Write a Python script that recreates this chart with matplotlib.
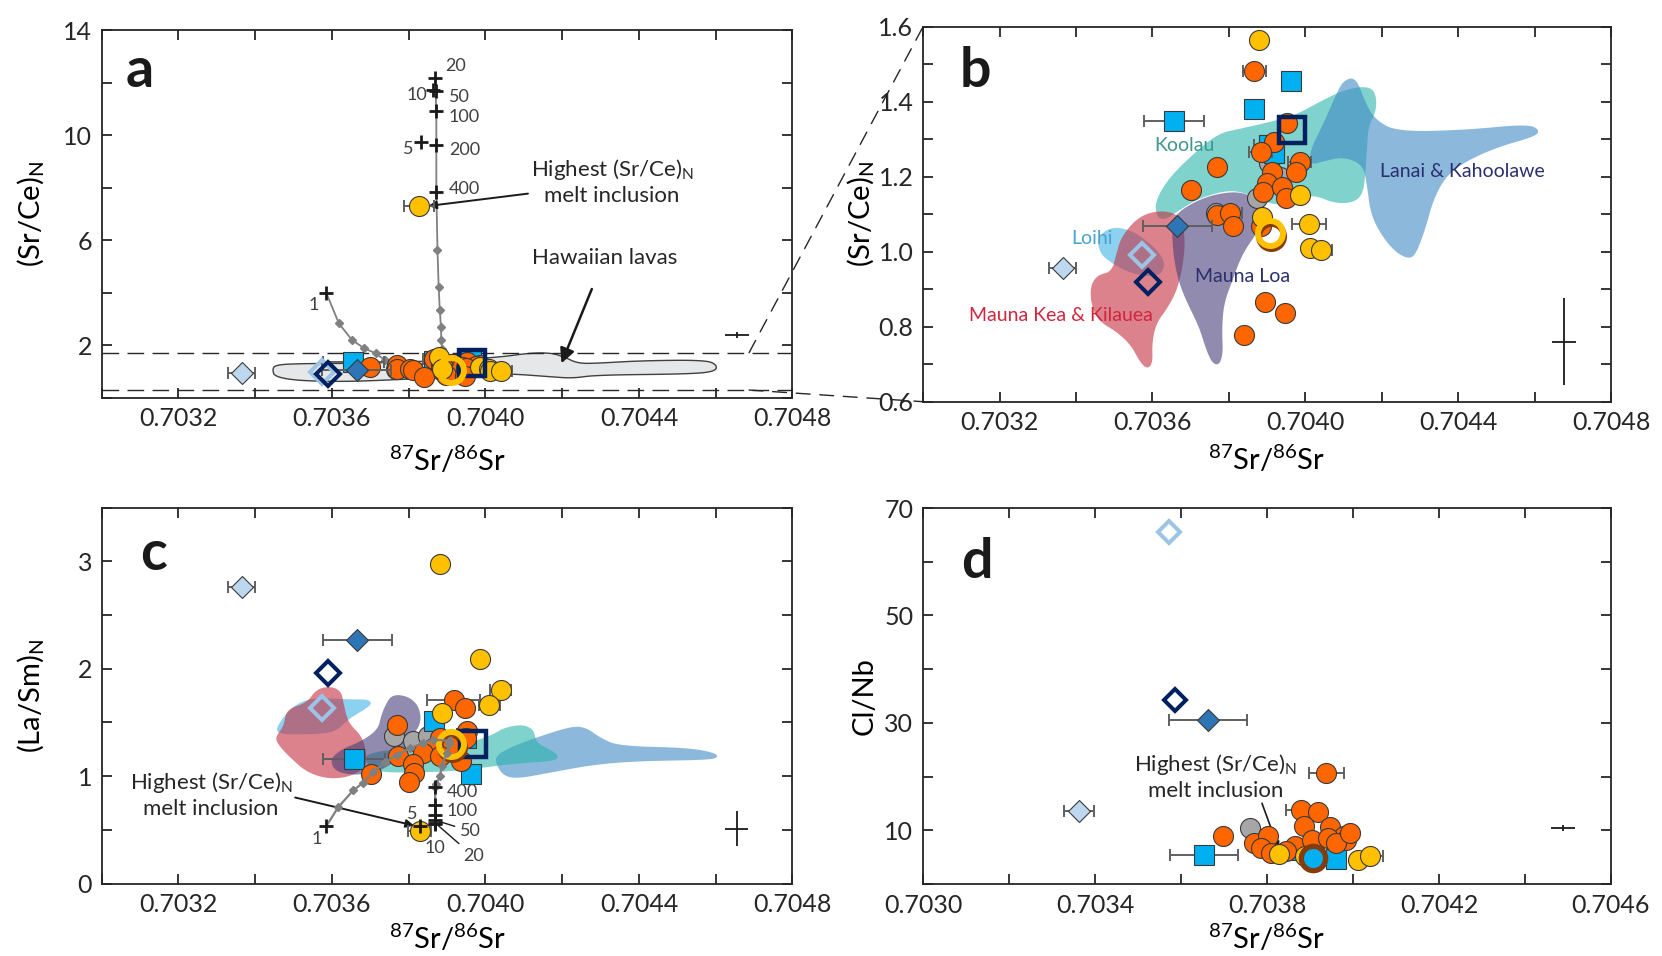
import numpy as np
import matplotlib.pyplot as plt
from matplotlib.patches import Polygon, ConnectionPatch

plt.rcParams['font.family'] = ['Lato', 'DejaVu Sans']
plt.rcParams['mathtext.fontset'] = 'custom'
plt.rcParams['mathtext.rm'] = 'Lato'
plt.rcParams['mathtext.it'] = 'Lato:italic'
plt.rcParams['mathtext.bf'] = 'Lato:bold'
plt.rcParams['text.color'] = '#262626'
plt.rcParams['axes.edgecolor'] = '#262626'
plt.rcParams['xtick.color'] = '#262626'
plt.rcParams['ytick.color'] = '#262626'

# ---- colours ----
ORANGE = '#FF6600'
YELLOW = '#FFC000'
GREY = '#A6A6A6'
CYAN = '#00B0F0'
NAVY = '#002060'
MIDBLUE = '#2E75B6'
PALEBLUE = '#BDD7EE'
LIGHTBLUE = '#9DC3E6'
BROWN = '#843C0C'
EDGE = '#3a3a3a'

# ---- tick labels ----
xticklabels_abc = ['', '0.7032', '', '0.7036', '', '0.7040', '', '0.7044', '', '0.7048']
xticklabels_d = ['0.7030', '', '0.7034', '', '0.7038', '', '0.7042', '', '0.7046']
yticklabels_a = ['', '2', '', '6', '', '10', '', '14']
yticklabels_b = ['0.6', '', '0.8', '', '1.0', '', '1.2', '', '1.4', '', '1.6']
yticklabels_c = ['0', '', '1', '', '2', '', '3', '']
yticklabels_d = ['', '10', '', '30', '', '50', '', '70']

# ---- melt inclusions: (Sr/Ce)N, panels a and b ----
orange_sr = [0.703867, 0.703952, 0.703918, 0.703884, 0.703770, 0.703985, 0.703975,
             0.703914, 0.703899, 0.703890, 0.703939, 0.703949, 0.703700, 0.703770,
             0.703804, 0.703810, 0.703884, 0.703896, 0.703947, 0.703839]
orange_srce = [1.483, 1.342, 1.293, 1.267, 1.227, 1.240, 1.213, 1.213, 1.182, 1.160,
               1.173, 1.142, 1.164, 1.098, 1.104, 1.068, 1.068, 0.867, 0.837, 0.778]
orange_err = [3e-5, 0, 0, 3e-5, 0, 3e-5, 0, 0, 0, 0, 0, 0, 0, 0, 3e-5, 0, 0, 0, 0, 0]
grey_sr = [0.703905, 0.703873, 0.703766, 0.703934]
grey_srce = [1.236, 1.142, 1.102, 1.200]
yellow_sr = [0.703880, 0.703987, 0.703886, 0.704010, 0.704013, 0.704040, 0.703827]
yellow_srce = [1.564, 1.151, 1.093, 1.074, 1.009, 1.004, 7.30]
yellow_err = [0, 0, 0, 4.5e-5, 0, 3e-5, 4e-5]
cyan_sr = [0.703962, 0.703866, 0.703656, 0.703905, 0.703918]
cyan_srce = [1.456, 1.380, 1.349, 1.284, 1.262]
cyan_err = [0, 0, 7.9e-5, 4e-5, 0]
navysq_sr, navysq_srce = [0.703966], [1.324]
ring_sr, ring_srce = [0.703909], [1.049]
middia_sr, middia_srce, middia_err = [0.703665], [1.069], [9e-5]
paledia_sr, paledia_srce, paledia_err = [0.703365], [0.956], [3.5e-5]
opendia_sr, opendia_srce = [0.703573], [0.991]
navydia_sr, navydia_srce = [0.703589], [0.920]

# ---- (La/Sm)N, panel c ----
orange_sr_c = [0.703917, 0.703947, 0.703770, 0.703953, 0.703950, 0.703881, 0.703905,
               0.703863, 0.703836, 0.703771, 0.703810, 0.703813, 0.703800, 0.703702,
               0.703881, 0.703935]
orange_lasm = [1.709, 1.637, 1.473, 1.420, 1.358, 1.358, 1.281, 1.265, 1.219, 1.188,
               1.110, 1.033, 0.946, 1.017, 1.188, 1.141]
orange_err_c = [6.9e-5] + [0] * 15
grey_sr_c = [0.703762, 0.703810, 0.703851]
grey_lasm = [1.374, 1.327, 1.374]
yellow_sr_c = [0.703881, 0.703985, 0.704040, 0.704010, 0.703887, 0.703829]
yellow_lasm = [2.98, 2.087, 1.798, 1.662, 1.585, 0.49]
yellow_err_c = [0, 0, 2.7e-5, 2.7e-5, 0, 3e-5]
cyan_sr_c = [0.703867, 0.703657, 0.703962, 0.703950]
cyan_lasm = [1.513, 1.157, 1.017, 1.360]
cyan_err_c = [0, 8e-5, 0, 0]
navysq_sr_c, navysq_lasm = [0.703968], [1.296]
ring_sr_c, ring_lasm = [0.703911], [1.296]
middia_sr_c, middia_lasm = [0.703666], [2.267]
paledia_sr_c, paledia_lasm = [0.703365], [2.763]
opendia_sr_c, opendia_lasm = [0.703574], [1.637]
navydia_sr_c, navydia_lasm = [0.703589], [1.963]

# ---- Cl/Nb, panel d ----
orange_sr_d = [0.703938, 0.703879, 0.703919, 0.703885, 0.703946, 0.703978, 0.703983,
               0.703697, 0.703770, 0.703803, 0.703787, 0.703809, 0.703865, 0.703904,
               0.703942, 0.703961, 0.703843, 0.703994]
orange_clnb = [20.68, 13.86, 13.36, 10.76, 10.63, 8.90, 8.15, 9.02, 7.66, 8.90, 6.73,
               5.80, 7.03, 8.27, 8.59, 7.66, 6.10, 9.50]
orange_err_d = [4e-5, 3.5e-5] + [0] * 16
grey_sr_d, grey_clnb = [0.703760], [10.45]
cyan_sr_d = [0.703653, 0.703910, 0.703961, 0.703871]
cyan_clnb = [5.42, 5.17, 4.68, 6.40]
cyan_err_d = [7.9e-5, 0, 0, 0]
yellow_sr_d = [0.703827, 0.704011, 0.704039, 0.703888]
yellow_clnb = [5.55, 4.55, 5.30, 5.17]
yellow_err_d = [0, 0, 3e-5, 0]
ring_sr_d, ring_clnb = [0.703908], [4.86]
middia_sr_d, middia_clnb = [0.703663], [30.48]
paledia_sr_d, paledia_clnb = [0.703363], [13.55]
opendia_sr_d, opendia_clnb = [0.703573], [65.47]
navydia_sr_d, navydia_clnb = [0.703586], [34.33]

# ---- mixing models ----
mixA_sr = [0.703869, 0.703872, 0.703872, 0.703872, 0.703875, 0.703878, 0.703881,
           0.703884, 0.703885, 0.703887, 0.703890]
mixA_srce = [12.17, 10.9, 9.63, 7.85, 5.63, 4.23, 3.34, 2.70, 2.20, 1.85, 1.45]
mixB_sr = [0.703585, 0.703618, 0.703652, 0.703684, 0.703714, 0.703738, 0.703762]
mixB_srce = [4.0, 2.83, 2.20, 1.88, 1.69, 1.43, 1.12]
mixA_sr_c = [0.703911, 0.703905, 0.703899, 0.703887, 0.703881, 0.703872, 0.703869, 0.703869]
mixA_lasm = [1.36, 1.30, 1.22, 1.095, 1.0, 0.924, 0.90, 0.559]
mixB_sr_c = [0.703585, 0.703617, 0.703656, 0.703682, 0.703708, 0.703739, 0.703770,
             0.703804, 0.703838, 0.703864, 0.703905]
mixB_lasm = [0.534, 0.714, 0.87, 0.94, 1.04, 1.13, 1.20, 1.26, 1.31, 1.34, 1.33]

F_labels = ['1', '5', '10', '20', '50', '100', '200', '400']
F_sr_a = [0.703585, 0.703831, 0.703863, 0.703869, 0.703872, 0.703872, 0.703872, 0.703872]
F_srce = [4.0, 9.75, 11.72, 12.17, 11.68, 10.9, 9.63, 7.85]
F_sr_c = [0.703585, 0.703830, 0.703869, 0.703869, 0.703869, 0.703869, 0.703869, 0.703869]
F_lasm = [0.534, 0.534, 0.555, 0.565, 0.59, 0.73, 0.637, 0.90]

# ---- fields of Hawaiian volcanoes ----
lavas_x = [0.703451, 0.703511, 0.703690, 0.703929, 0.704048, 0.704108, 0.704168, 0.704204,
           0.704240, 0.704287, 0.704407, 0.704574, 0.704604, 0.704598, 0.704526, 0.704287,
           0.704227, 0.704168, 0.704048, 0.703929, 0.703750, 0.703630, 0.703511, 0.703451,
           0.703445]
lavas_y = [1.244, 1.30, 1.308, 1.435, 1.562, 1.689, 1.714, 1.562, 1.308, 1.308, 1.41, 1.435,
           1.244, 0.99, 0.90, 0.863, 0.737, 0.80, 0.927, 0.80, 0.673, 0.61, 0.648, 0.80, 1.054]

koolau_b_x = [0.703610, 0.703608, 0.703646, 0.703709, 0.703772, 0.703835, 0.703911, 0.703975,
              0.704038, 0.704101, 0.704158, 0.704184, 0.704187, 0.704165, 0.704162, 0.704158,
              0.704152, 0.704127, 0.704076, 0.704025, 0.703975, 0.703924, 0.703848, 0.703797,
              0.703722, 0.703671, 0.703633]
koolau_b_y = [1.0933, 1.1378, 1.2, 1.2622, 1.3156, 1.3289, 1.3467, 1.3644, 1.4, 1.4311,
              1.4418, 1.4267, 1.3778, 1.3333, 1.28, 1.2178, 1.1556, 1.1307, 1.1289, 1.1511,
              1.1422, 1.12, 1.1556, 1.1644, 1.1422, 1.1111, 1.0844]
lanai_b_x = [0.704101, 0.704133, 0.704158, 0.704184, 0.704241, 0.704418, 0.704582, 0.704614,
             0.704601, 0.704506, 0.704418, 0.704367, 0.704335, 0.704316, 0.704291, 0.704272,
             0.704234, 0.704196, 0.704171, 0.704162, 0.704152, 0.704101, 0.704044, 0.704013,
             0.704013, 0.704044, 0.704082]
lanai_b_y = [1.4578, 1.4649, 1.3956, 1.3511, 1.32, 1.3244, 1.3404, 1.3244, 1.3067, 1.28,
             1.24, 1.2, 1.1378, 1.0667, 0.9956, 0.9796, 1.0, 1.0489, 1.1022, 1.1733, 1.2311,
             1.2533, 1.24, 1.2311, 1.2711, 1.3333, 1.4222]
loa_b_x = [0.703652, 0.703709, 0.703772, 0.703835, 0.703886, 0.703892, 0.703873, 0.703848,
           0.703829, 0.703810, 0.703787, 0.703782, 0.703785, 0.703775, 0.703757, 0.703741,
           0.703722, 0.703696, 0.703673, 0.703658, 0.703652]
loa_b_y = [1.0933, 1.1333, 1.1556, 1.16, 1.1333, 1.0933, 1.0489, 1.0133, 0.9778, 0.9244,
           0.8622, 0.7911, 0.7289, 0.6978, 0.7022, 0.7378, 0.80, 0.8533, 0.9067, 0.9689, 1.0311]
kea_b_x = [0.703437, 0.703456, 0.703494, 0.703506, 0.703519, 0.703563, 0.703620, 0.703673,
           0.703686, 0.703681, 0.703665, 0.703639, 0.703610, 0.703599, 0.703601, 0.703586,
           0.703567, 0.703544, 0.703506, 0.703462, 0.703441]
kea_b_y = [0.9067, 0.9378, 0.9467, 0.9956, 1.04, 1.0933, 1.1111, 1.0978, 1.04, 0.9689,
           0.8978, 0.8489, 0.8089, 0.7556, 0.7022, 0.6871, 0.7067, 0.7511, 0.7867, 0.8133, 0.8533]
loihi_b_x = [0.703456, 0.703494, 0.703544, 0.703595, 0.703633, 0.703627, 0.703595,
             0.703544, 0.703494, 0.703462]
loihi_b_y = [1.04, 1.0667, 1.0578, 1.0222, 0.9778, 0.9422, 0.9333, 0.9422, 0.9689, 0.9956]

lanai_c_x = [0.704025, 0.704072, 0.704144, 0.704227, 0.704263, 0.704299, 0.704347, 0.704526,
             0.704598, 0.704607, 0.704574, 0.704407, 0.704287, 0.704168, 0.704084, 0.704048,
             0.704030]
lanai_c_y = [1.1876, 1.2806, 1.3736, 1.4667, 1.4512, 1.3581, 1.2806, 1.2651, 1.2186, 1.1721,
             1.1504, 1.1411, 1.1101, 1.0326, 0.9767, 1.0016, 1.0946]
koolau_c_x = [0.703690, 0.703810, 0.703929, 0.704013, 0.704048, 0.704096, 0.704126, 0.704132,
              0.704168, 0.704192, 0.704180, 0.704108, 0.704024, 0.703929, 0.703810, 0.703714,
              0.703688]
koolau_c_y = [1.2186, 1.2651, 1.2806, 1.3736, 1.4512, 1.4822, 1.4357, 1.3116, 1.2496, 1.1876,
              1.1411, 1.1256, 1.0946, 1.0481, 1.0326, 1.0388, 1.1256]
loa_c_x = [0.703738, 0.703756, 0.703798, 0.703827, 0.703833, 0.703810, 0.703798, 0.703762,
           0.703714, 0.703654, 0.703607, 0.703595, 0.703624, 0.703678, 0.703720, 0.703728]
loa_c_y = [1.6527, 1.7612, 1.7457, 1.6527, 1.4977, 1.3736, 1.2496, 1.1256, 1.0326, 1.0078,
           1.0481, 1.1566, 1.2496, 1.3271, 1.4357, 1.5597]
kea_c_x = [0.703481, 0.703535, 0.703559, 0.703595, 0.703624, 0.703630, 0.703642, 0.703678,
           0.703690, 0.703690, 0.703654, 0.703595, 0.703535, 0.703487, 0.703463, 0.703451,
           0.703475]
kea_c_y = [1.6217, 1.6837, 1.8078, 1.8388, 1.7922, 1.6837, 1.4977, 1.3736, 1.2186, 1.0946,
           1.0016, 0.9705, 1.0326, 1.1876, 1.2806, 1.3581, 1.4667]
loihi_c_x = [0.703451, 0.703475, 0.703511, 0.703559, 0.703607, 0.703654, 0.703696, 0.703704,
             0.703678, 0.703642, 0.703607, 0.703535, 0.703475]
loihi_c_y = [1.4202, 1.5597, 1.6837, 1.7302, 1.7209, 1.7147, 1.7147, 1.6682, 1.6062, 1.5287,
             1.4047, 1.3891, 1.3891]

FIELD_COLORS = {'koolau': '#2BB4AC', 'lanai': '#3F8AC5', 'loihi': '#3FB4E6',
                'kea': '#C52F3F', 'loa': '#483F7A'}


def chaikin(xs, ys, n=4):
    p = np.column_stack([xs, ys]).astype(float)
    for _ in range(n):
        q = np.roll(p, -1, axis=0)
        out = np.empty((2 * len(p), 2))
        out[0::2] = 0.75 * p + 0.25 * q
        out[1::2] = 0.25 * p + 0.75 * q
        p = out
    return p


def field(ax, xs, ys, color, alpha=0.6, z=1, **kw):
    ax.add_patch(Polygon(chaikin(xs, ys), closed=True, fc=color, alpha=alpha,
                         lw=0, zorder=z, **kw))


def pts(ax, x, y, err=None, marker='o', ms=14.4, fc=ORANGE, ec=EDGE, mew=0.8, z=5):
    x = np.asarray(x)
    y = np.asarray(y)
    if err is not None:
        err = np.asarray(err)
        m = err > 0
        if m.any():
            ax.errorbar(x[m], y[m], xerr=err[m], fmt='none', ecolor='#5f5f5f',
                        elinewidth=1.4, capsize=4, capthick=1.4, zorder=z - 0.5)
    ax.plot(x, y, ls='none', marker=marker, ms=ms, mfc=fc, mec=ec, mew=mew, zorder=z)


def style(ax, xlim, ylim, xt, xtl, yt, ytl):
    ax.set_xlim(*xlim)
    ax.set_ylim(*ylim)
    ax.set_xticks(xt)
    ax.set_xticklabels(xtl)
    ax.set_yticks(yt)
    ax.set_yticklabels(ytl)
    ax.tick_params(direction='in', length=7, width=1.3, top=True, right=True,
                   labelsize=18, pad=7)
    for s in ax.spines.values():
        s.set_linewidth(1.3)


def error_cross(ax, x, y, dx, dy):
    ax.errorbar([x], [y], xerr=[dx], yerr=[dy], fmt='none', ecolor='#1a1a1a',
                elinewidth=1.3, capsize=0, zorder=6)


fig = plt.figure(figsize=(16.62, 9.56), dpi=100)
axa = fig.add_axes([0.0612, 0.584, 0.4156, 0.3846])
axb = fig.add_axes([0.5554, 0.5798, 0.4139, 0.3923])
axc = fig.add_axes([0.0612, 0.0758, 0.4156, 0.3931])
axd = fig.add_axes([0.5554, 0.0753, 0.4139, 0.3933])

xt_abc = np.linspace(0.7030, 0.7048, 10)
xt_d = np.linspace(0.7030, 0.7046, 9)
style(axa, (0.7030, 0.7048), (0, 14), xt_abc, xticklabels_abc, np.arange(0, 15, 2), yticklabels_a)
style(axb, (0.7030, 0.7048), (0.6, 1.6), xt_abc, xticklabels_abc, np.linspace(0.6, 1.6, 11), yticklabels_b)
style(axc, (0.7030, 0.7048), (0, 3.5), xt_abc, xticklabels_abc, np.arange(0, 3.51, 0.5), yticklabels_c)
style(axd, (0.7030, 0.7046), (0, 70), xt_d, xticklabels_d, np.arange(0, 71, 10), yticklabels_d)

xlab = r'$^{87}$Sr/$^{86}$Sr'
for ax, yl, lx, ly in [(axa, r'(Sr/Ce)$_\mathrm{N}$', -0.080, -0.128),
                       (axb, r'(Sr/Ce)$_\mathrm{N}$', -0.068, -0.112),
                       (axc, r'(La/Sm)$_\mathrm{N}$', -0.080, -0.104),
                       (axd, 'Cl/Nb', -0.066, -0.102)]:
    ax.set_xlabel(xlab, fontsize=21)
    ax.set_ylabel(yl, fontsize=21)
    ax.yaxis.set_label_coords(lx, 0.5)
    ax.xaxis.set_label_coords(0.5, ly)

for ax, letter, lx, ly in [(axa, 'a', 0.035, 0.844), (axb, 'b', 0.053, 0.84),
                           (axc, 'c', 0.055, 0.834), (axd, 'd', 0.056, 0.813)]:
    ax.text(lx, ly, letter, transform=ax.transAxes, fontsize=40, fontweight='bold',
            color='#1a1a1a', ha='left', va='baseline')


def draw_common(ax, o, g, c, yl, nsq, rg, md, pd, od, nd, mixed_ring=True):
    pts(ax, *g, fc=GREY, z=4)
    pts(ax, *c, marker='s', fc=CYAN, z=4.2)
    pts(ax, *o, fc=ORANGE, z=5)
    pts(ax, *yl, fc=YELLOW, z=5.2)
    pts(ax, *nsq, marker='s', ms=18.4, fc='none', ec=NAVY, mew=3.2, z=6)
    if mixed_ring:
        ax.plot(rg[0], rg[1], ls='none', marker='o', ms=18, mfc='none', mec=BROWN,
                mew=4.3, zorder=6)
    pts(ax, *md, marker='D', ms=11.7, fc=MIDBLUE, z=7)
    pts(ax, *pd, marker='D', ms=10.7, fc=PALEBLUE, z=7)
    pts(ax, *od, marker='D', ms=12.3, fc='none', ec=LIGHTBLUE, mew=2.9, z=7)
    pts(ax, *nd, marker='D', ms=12.3, fc='none', ec=NAVY, mew=2.9, z=7)


NUM_SIZE = 13

# ---- panel a ----
axa.add_patch(Polygon(chaikin(lavas_x, lavas_y), closed=True, fc='#E6E7E8',
                      ec='#404040', lw=1.0, zorder=1))
dash = (0, (12, 6))
axa.axhline(1.714, color='#262626', lw=1.0, ls=dash, zorder=2)
axa.axhline(0.292, color='#262626', lw=1.0, ls=dash, zorder=2)
axa.plot(mixA_sr, mixA_srce, color='#808080', lw=1.3, zorder=3)
axa.plot(mixA_sr[4:10], mixA_srce[4:10], ls='none', marker='D', ms=4, color='#808080', zorder=3)
axa.plot(mixB_sr, mixB_srce, color='#808080', lw=1.3, zorder=3)
axa.plot(mixB_sr[1:], mixB_srce[1:], ls='none', marker='D', ms=4, color='#808080', zorder=3)
axa.plot(F_sr_a, F_srce, ls='none', marker='+', ms=10, mew=2, color='#1a1a1a', zorder=8)
offs_a = [(-5, -9, 'right'), (-5, -5, 'right'), (-4, -4, 'right'), (7, 9, 'left'),
          (9, -4, 'left'), (9, -4, 'left'), (9, -4, 'left'), (9, 2, 'left')]
for x, y, lab, (dx, dy, ha) in zip(F_sr_a, F_srce, F_labels, offs_a):
    axa.annotate(lab, (x, y), xytext=(dx, dy), textcoords='offset points', ha=ha,
                 va='center', fontsize=NUM_SIZE, color='#404040', zorder=8)

draw_common(axa, (orange_sr, orange_srce, orange_err), (grey_sr, grey_srce),
            (cyan_sr, cyan_srce, cyan_err), (yellow_sr, yellow_srce, yellow_err),
            (navysq_sr, navysq_srce), (ring_sr, ring_srce),
            (middia_sr, middia_srce, middia_err), (paledia_sr, paledia_srce, paledia_err),
            (opendia_sr, opendia_srce), (navydia_sr, navydia_srce), mixed_ring=False)
pts(axa, ring_sr, ring_srce, ms=18, fc='none', ec=YELLOW, mew=4.3, z=6.5)
error_cross(axa, 0.704655, 2.39, 3.2e-5, 0.1)

axa.annotate('Highest (Sr/Ce)$_\\mathrm{N}$\nmelt inclusion', xy=(yellow_sr[-1] + 2.4e-5, yellow_srce[-1]),
             xytext=(0.70433, 8.25), ha='center', va='center', fontsize=16, linespacing=1.25,
             arrowprops=dict(arrowstyle='-|>', color='#1a1a1a', lw=1.4, mutation_scale=12,
                             shrinkA=0, shrinkB=0, relpos=(0.0, 0.25)))
axa.annotate('Hawaiian lavas', xy=(0.704198, 1.31), xytext=(0.70431, 5.31), ha='center',
             va='center', fontsize=16,
             arrowprops=dict(arrowstyle='-|>', color='#1a1a1a', lw=1.8, mutation_scale=22,
                             shrinkA=14, shrinkB=0))

# ---- panel b ----
field(axb, koolau_b_x, koolau_b_y, FIELD_COLORS['koolau'])
field(axb, lanai_b_x, lanai_b_y, FIELD_COLORS['lanai'])
field(axb, loihi_b_x, loihi_b_y, FIELD_COLORS['loihi'])
field(axb, kea_b_x, kea_b_y, FIELD_COLORS['kea'])
field(axb, loa_b_x, loa_b_y, FIELD_COLORS['loa'])
draw_common(axb, (orange_sr, orange_srce, orange_err), (grey_sr, grey_srce),
            (cyan_sr, cyan_srce, cyan_err), (yellow_sr, yellow_srce, yellow_err),
            (navysq_sr, navysq_srce), (np.array(ring_sr) + 2e-6, np.array(ring_srce) - 0.006),
            (middia_sr, middia_srce, middia_err), (paledia_sr, paledia_srce, paledia_err),
            (opendia_sr, opendia_srce), (navydia_sr, navydia_srce))
pts(axb, ring_sr, ring_srce, ms=18, fc='none', ec=YELLOW, mew=4.3, z=6.5)
error_cross(axb, 0.704677, 0.76, 3.2e-5, 0.1156)
for txt, x, y, col in [('Koolau', 0.703684, 1.284, '#3F968C'),
                       ('Lanai & Kahoolawe', 0.704411, 1.2133, '#2B2F6E'),
                       ('Loihi', 0.703443, 1.0356, '#4AA3CF'),
                       ('Mauna Loa', 0.703835, 0.9333, '#2B2F6E'),
                       ('Mauna Kea & Kilauea', 0.703361, 0.8311, '#D0263E')]:
    axb.text(x, y, txt, ha='center', va='center', fontsize=14, color=col, zorder=3)

# ---- panel c ----
field(axc, lanai_c_x, lanai_c_y, FIELD_COLORS['lanai'])
field(axc, koolau_c_x, koolau_c_y, FIELD_COLORS['koolau'])
field(axc, loihi_c_x, loihi_c_y, FIELD_COLORS['loihi'])
field(axc, kea_c_x, kea_c_y, FIELD_COLORS['kea'])
field(axc, loa_c_x, loa_c_y, FIELD_COLORS['loa'])
draw_common(axc, (orange_sr_c, orange_lasm, orange_err_c), (grey_sr_c, grey_lasm),
            (cyan_sr_c, cyan_lasm, cyan_err_c), (yellow_sr_c, yellow_lasm, yellow_err_c),
            (navysq_sr_c, navysq_lasm), (np.array(ring_sr_c) + 2e-6, np.array(ring_lasm) - 0.02),
            (middia_sr_c, middia_lasm, middia_err), (paledia_sr_c, paledia_lasm, paledia_err),
            (opendia_sr_c, opendia_lasm), (navydia_sr_c, navydia_lasm))
pts(axc, ring_sr_c, ring_lasm, ms=18, fc='none', ec=YELLOW, mew=4.3, z=6.5)
axc.plot(mixA_sr_c, mixA_lasm, color='#808080', lw=1.6, zorder=7.5)
axc.plot(mixA_sr_c[1:7], mixA_lasm[1:7], ls='none', marker='D', ms=4, color='#808080', zorder=7.5)
axc.plot(mixB_sr_c, mixB_lasm, color='#808080', lw=1.6, zorder=7.5)
axc.plot(mixB_sr_c[1:], mixB_lasm[1:], ls='none', marker='D', ms=4, color='#808080', zorder=7.5)
axc.plot(F_sr_c, F_lasm, ls='none', marker='+', ms=10, mew=2, color='#1a1a1a', zorder=8)
offs_c = [(-3, -9, 'right', False), (-2, 9, 'right', False), (0, -17, 'center', False),
          (20, -24, 'left', True), (18, -8, 'left', True), (8, -4, 'left', False),
          None, (8, -4, 'left', False)]
for x, y, lab, off in zip(F_sr_c, F_lasm, F_labels, offs_c):
    if off is None:
        continue
    dx, dy, ha, lead = off
    arrow = dict(arrowstyle='-', color='#1a1a1a', lw=1.0, shrinkA=2, shrinkB=3) if lead else None
    axc.annotate(lab, (x, y), xytext=(dx, dy), textcoords='offset points', ha=ha,
                 va='center', fontsize=NUM_SIZE, color='#404040', zorder=8, arrowprops=arrow)
axc.annotate('Highest (Sr/Ce)$_\\mathrm{N}$\nmelt inclusion', xy=(yellow_sr_c[-1] - 1.5e-5, yellow_lasm[-1] + 0.05),
             xytext=(0.703285, 0.83), ha='center', va='center', fontsize=16, linespacing=1.25,
             arrowprops=dict(arrowstyle='-|>', color='#1a1a1a', lw=1.4, mutation_scale=12,
                             shrinkA=0, shrinkB=0, relpos=(1.0, 0.45)))
error_cross(axc, 0.704655, 0.512, 3e-5, 0.163)

# ---- panel d ----
pts(axd, grey_sr_d, grey_clnb, fc=GREY, z=4)
pts(axd, cyan_sr_d, cyan_clnb, cyan_err_d, marker='s', fc=CYAN, z=4.2)
pts(axd, orange_sr_d, orange_clnb, orange_err_d, fc=ORANGE, z=5)
pts(axd, yellow_sr_d, yellow_clnb, yellow_err_d, fc=YELLOW, z=5.2)
pts(axd, ring_sr_d, ring_clnb, ms=17.5, fc=CYAN, ec=BROWN, mew=3.8, z=6)
pts(axd, middia_sr_d, middia_clnb, middia_err, marker='D', ms=11.7, fc=MIDBLUE, z=7)
pts(axd, paledia_sr_d, paledia_clnb, paledia_err, marker='D', ms=10.7, fc=PALEBLUE, z=7)
pts(axd, opendia_sr_d, opendia_clnb, marker='D', ms=11.5, fc='none', ec=LIGHTBLUE, mew=2.9, z=7)
pts(axd, navydia_sr_d, navydia_clnb, marker='D', ms=11.5, fc='none', ec=NAVY, mew=2.9, z=7)
axd.annotate('Highest (Sr/Ce)$_\\mathrm{N}$\nmelt inclusion', xy=(yellow_sr_d[0], yellow_clnb[0] + 1.0),
             xytext=(0.70368, 20.1), ha='center', va='center', fontsize=16, linespacing=1.25,
             arrowprops=dict(arrowstyle='-|>', color='#1a1a1a', lw=1.2, mutation_scale=10,
                             shrinkA=0, shrinkB=0, relpos=(0.78, 0.0)))
error_cross(axd, 0.704489, 10.45, 2.8e-5, 0.6)

# ---- zoom connectors from a to b (drawn above the axes backgrounds) ----
for ya, yb in [(1.714, 1.6), (0.292, 0.6)]:
    con = ConnectionPatch(xyA=(0.704687, ya), coordsA=axa.transData,
                          xyB=(0.7030, yb), coordsB=axb.transData,
                          color='#262626', lw=1.0, ls=(0, (10, 7)),
                          shrinkA=0, shrinkB=0, zorder=5)
    fig.add_artist(con)

fig.savefig('out.png', dpi=100, facecolor='white')
